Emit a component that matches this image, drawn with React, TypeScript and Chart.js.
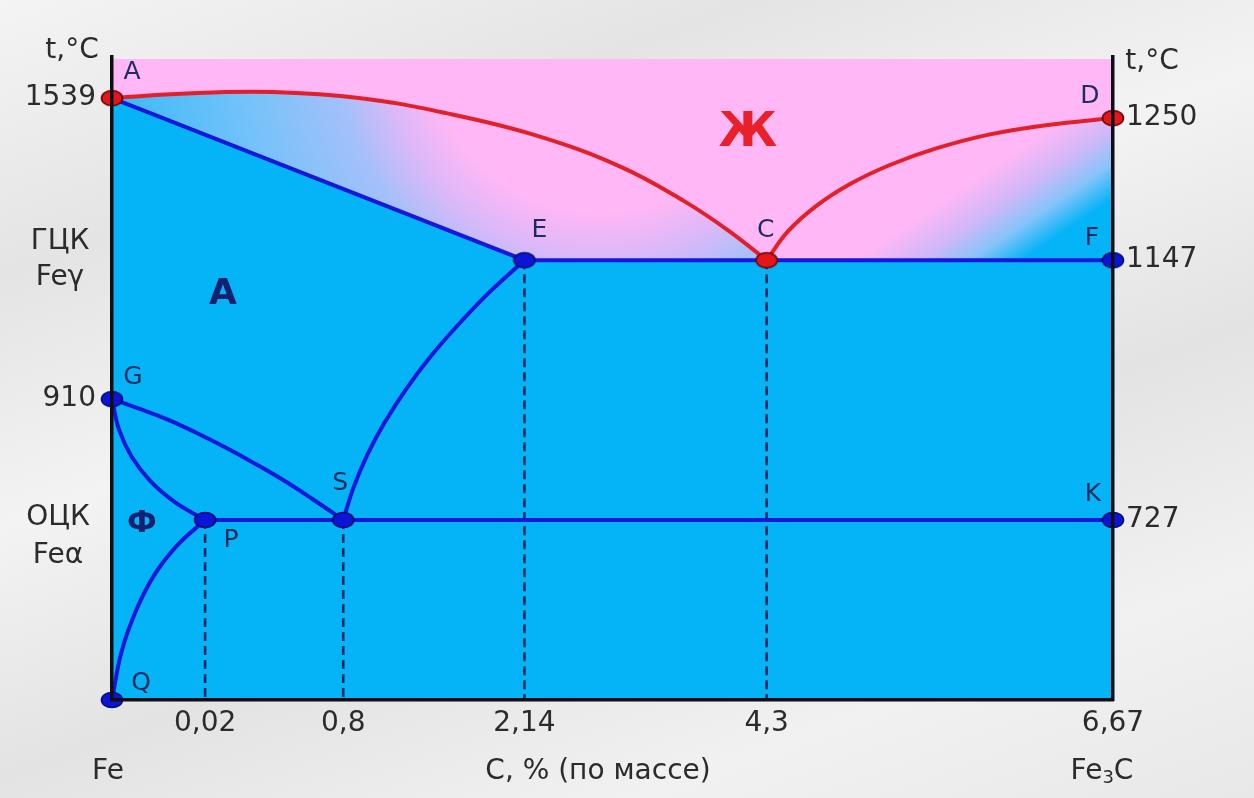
import React, { useEffect, useRef } from 'react';
import { Chart, LinearScale, registerables } from 'chart.js';

Chart.register(...registerables);

// ---------------- data (carbon %, temperature °C) ----------------
const CARBON_TICKS = [0.02, 0.8, 2.14, 4.3, 6.67];
const CARBON_TICK_LABELS = ['0,02', '0,8', '2,14', '4,3', '6,67'];
const TEMP_TICKS_LEFT = [910, 1539];
const TEMP_TICKS_RIGHT = [727, 1147, 1250];

// liquidus A–C
const AC_C = [0, 0.016, 0.4, 0.93, 1.56, 2.22, 2.99, 3.56, 3.95, 4.3];
const AC_T = [1539, 1546, 1548, 1539, 1322, 1238, 1215, 1190, 1169, 1147];
// liquidus C–D
const CD_C = [4.3, 4.447, 4.636, 4.868, 5.143, 5.46, 5.82, 6.223, 6.67];
const CD_T = [1147, 1168, 1186, 1202, 1216, 1228, 1238, 1245, 1250];
// solidus A–E–F
const AEF_C = [0, 2.14, 6.67];
const AEF_T = [1539, 1147, 1147];
// E–S
const ES_C = [0.8, 0.876, 0.977, 1.105, 1.259, 1.44, 1.647, 1.88, 2.14];
const ES_T = [727, 776, 825, 874, 925, 981, 1036, 1092, 1147];
// G–S
const GS_C = [0, 0.006, 0.012, 0.0181, 0.133, 0.297, 0.463, 0.63, 0.8];
const GS_T = [910, 895, 879, 859, 837, 813, 787, 758, 727];
// G–P
const GP_C = [0, 0.0015, 0.0042, 0.0082, 0.0135, 0.02];
const GP_T = [910, 864, 823, 786, 754, 727];
// Q–P
const QP_C = [0, 0.002, 0.0051, 0.009, 0.014, 0.02];
const QP_T = [0, 191, 358, 502, 624, 727];
// P–S–K
const PSK_C = [0.02, 0.8, 6.67];
const PSK_T = [727, 727, 727];
// vertical drop lines
const DROP_C = [0.02, 0.8, 2.14, 4.3];
const DROP_T = [727, 727, 1147, 1147];

// characteristic points
const POINT_NAMES = ['A', 'D', 'C', 'E', 'F', 'G', 'S', 'P', 'K', 'Q'];
const POINT_C = [0, 6.67, 4.3, 2.14, 6.67, 0, 0.8, 0.02, 6.67, 0];
const POINT_T = [1539, 1250, 1147, 1147, 1147, 910, 727, 727, 727, 0];
const LIQUID_POINTS = ['A', 'D', 'C'];

// ---------------- scale configuration (schematic, piecewise axes) ----------------
const X_BREAKS = [0, 0.02, 0.8, 2.14, 4.3, 6.67];
const X_FRACS = [0, 0.093, 0.231, 0.412, 0.654, 1];
const T_BREAKS = [0, 727, 910, 1147, 1250, 1539, 1600];
const T_FRACS = [0, 0.28, 0.468, 0.684, 0.905, 0.936, 1];

function interp(v: number, xs: number[], ys: number[]): number {
  if (v == null || isNaN(v)) return NaN;
  let i = 0;
  while (i < xs.length - 2 && v > xs[i + 1]) i++;
  const t = (v - xs[i]) / (xs[i + 1] - xs[i]);
  return ys[i] + t * (ys[i + 1] - ys[i]);
}

function makeScale(id: string, breaks: number[], fracs: number[]) {
  class PiecewiseScale extends (LinearScale as any) {
    getPixelForValue(value: number) {
      return (this as any).getPixelForDecimal(interp(value, breaks, fracs));
    }
    getValueForPixel(pixel: number) {
      return interp((this as any).getDecimalForPixel(pixel), fracs, breaks);
    }
  }
  (PiecewiseScale as any).id = id;
  (PiecewiseScale as any).defaults = { ...((LinearScale as any).defaults || {}) };
  return PiecewiseScale;
}
Chart.register(makeScale('carbon', X_BREAKS, X_FRACS) as any, makeScale('temperature', T_BREAKS, T_FRACS) as any);

// ---------------- styles ----------------
const PINK = '#ffb7f5';
const BLUE_FILL = '#04b4f6';
const BLUE_LINE = '#1616dc';
const RED_LINE = '#e2202a';
const DASH = '#1b2a60';
const AXIS = '#0e0e14';
const TEXT = '#2b2b2b';
const NAVY = '#1e2b5e';
const FONT = "'DejaVu Sans', 'Liberation Sans', sans-serif";

const LEFT_STOPS: [number, string][] = [
  [0, PINK], [0.36, PINK], [0.45, '#dcb8f8'], [0.55, '#a4c0fa'], [0.75, '#74c2fa'], [1, '#40baf8'],
];
const RIGHT_STOPS: [number, string][] = [
  [0, PINK], [0.2, PINK], [0.5, '#d0b8f8'], [0.75, '#86c4fa'], [1, BLUE_FILL],
];

const LABEL_OFFSETS: Record<string, [number, number]> = {
  A: [20, -26], D: [-23, -22], C: [-1, -30], E: [15, -30], F: [-21, -22],
  G: [21, -22], S: [-3, -36], P: [26, 21], K: [-20, -25], Q: [29, -17],
};

const pts = (cs: number[], ts: number[]) => cs.map((c, i) => ({ x: c, y: ts[i] }));

function makeDot(fill: string, stroke: string) {
  const c = document.createElement('canvas');
  c.width = 24;
  c.height = 18;
  const g = c.getContext('2d')!;
  g.beginPath();
  g.ellipse(12, 9, 10.5, 7.5, 0, 0, Math.PI * 2);
  g.fillStyle = fill;
  g.fill();
  g.lineWidth = 1.6;
  g.strokeStyle = stroke;
  g.stroke();
  return c;
}

// gradients defined in chart-area fractions
const linearArea = (f: [number, number, number, number], stops: [number, string][]) => (ctx: any) => {
  const chart = ctx.chart;
  const a = chart.chartArea;
  if (!a) return PINK;
  const w = a.right - a.left;
  const h = a.bottom - a.top;
  const g = chart.ctx.createLinearGradient(a.left + f[0] * w, a.top + f[1] * h, a.left + f[2] * w, a.top + f[3] * h);
  stops.forEach(([o, c]) => g.addColorStop(o, c));
  return g;
};
const radialArea = (f: [number, number, number], stops: [number, string][]) => (ctx: any) => {
  const chart = ctx.chart;
  const a = chart.chartArea;
  if (!a) return PINK;
  const w = a.right - a.left;
  const h = a.bottom - a.top;
  const cx = a.left + f[0] * w;
  const cy = a.top + f[1] * h;
  const g = chart.ctx.createRadialGradient(cx, cy, 0, cx, cy, f[2] * w);
  stops.forEach(([o, c]) => g.addColorStop(o, c));
  return g;
};
const leftFill = radialArea([0.4875, -0.026, 0.48], LEFT_STOPS);
const rightFill = linearArea([0.774, 0.239, 0.8396, 0.3896], RIGHT_STOPS);

const bgPlugin = {
  id: 'liquidBg',
  beforeDatasetsDraw(chart: any) {
    const { ctx, chartArea: a } = chart;
    ctx.save();
    ctx.fillStyle = PINK;
    ctx.fillRect(a.left, a.top + 2, a.right - a.left, a.bottom - a.top - 2);
    ctx.restore();
  },
};

const textPlugin = {
  id: 'diagramText',
  afterDraw(chart: any) {
    const { ctx, chartArea: a, scales } = chart;
    const put = (s: string, x: number, y: number, font: string, color: string, align: CanvasTextAlign = 'center') => {
      ctx.font = font;
      ctx.fillStyle = color;
      ctx.textAlign = align;
      ctx.textBaseline = 'middle';
      ctx.fillText(s, x, y);
    };
    ctx.save();
    // point letters
    POINT_NAMES.forEach((n, i) => {
      const px = scales.x.getPixelForValue(POINT_C[i]);
      const py = scales.y.getPixelForValue(POINT_T[i]);
      const [dx, dy] = LABEL_OFFSETS[n];
      put(n, px + dx, py + dy, `25px ${FONT}`, NAVY);
    });
    // phase labels
    put('Ж', a.left + 636, a.top + 77, `bold 48px ${FONT}`, '#e8202a');
    put('А', a.left + 111, a.top + 238, `bold 36px ${FONT}`, '#142070');
    put('Ф', a.left + 30, a.top + 467, `bold 30px ${FONT}`, '#142070');
    // axis captions
    const f = `28px ${FONT}`;
    put('t,°C', a.left - 40, a.top - 6, f, TEXT);
    put('t,°C', a.right + 39, a.top + 5, f, TEXT);
    put('ГЦК', 60, a.top + 185, f, TEXT);
    put('Feγ', 60, a.top + 221, f, TEXT);
    put('ОЦК', 58, a.top + 461, f, TEXT);
    put('Feα', 58, a.top + 499, f, TEXT);
    put('Fe', a.left - 4, a.bottom + 72, f, TEXT);
    put('C, % (по массе)', 598, a.bottom + 72, f, TEXT);
    // Fe3C with subscript
    ctx.font = f;
    const wFe = ctx.measureText('Fe').width;
    const wC = ctx.measureText('C').width;
    ctx.font = `18px ${FONT}`;
    const w3 = ctx.measureText('3').width;
    const total = wFe + w3 + wC;
    let x0 = a.right - 11 - total / 2;
    put('Fe', x0, a.bottom + 72, f, TEXT, 'left');
    x0 += wFe;
    put('3', x0, a.bottom + 78, `18px ${FONT}`, TEXT, 'left');
    x0 += w3;
    put('C', x0, a.bottom + 72, f, TEXT, 'left');
    ctx.restore();
  },
};

export default function App() {
  const ref = useRef<HTMLCanvasElement>(null);

  useEffect(() => {
    const canvas = ref.current;
    if (!canvas) return;
    const redDot = makeDot('#e4161c', '#6a0808');
    const blueDot = makeDot('#0c14d8', '#05106a');

    const line = (data: any[], color: string, width: number, extra: any = {}) => ({
      data,
      borderColor: color,
      borderWidth: width,
      pointRadius: 0,
      fill: false,
      tension: 0,
      clip: false,
      order: 5,
      ...extra,
    });

    const liquidIdx = POINT_NAMES.map((n, i) => (LIQUID_POINTS.includes(n) ? i : -1)).filter((i) => i >= 0);
    const solidIdx = POINT_NAMES.map((n, i) => (LIQUID_POINTS.includes(n) ? -1 : i)).filter((i) => i >= 0);

    const datasets: any[] = [
      // fills
      line(pts(AC_C, AC_T), 'transparent', 0, { fill: 'start', backgroundColor: leftFill, tension: 0.4, order: 20 }),
      line(pts(CD_C, CD_T), 'transparent', 0, { fill: 'start', backgroundColor: rightFill, tension: 0.4, order: 19 }),
      line(pts(AEF_C, AEF_T), 'transparent', 0, { fill: 'start', backgroundColor: BLUE_FILL, order: 18 }),
      // dashed drop lines
      ...DROP_C.map((c, i) =>
        line([{ x: c, y: DROP_T[i] }, { x: c, y: 0 }], DASH, 2.6, { borderDash: [9, 5], order: 8 })
      ),
      // phase boundaries
      line(pts(AEF_C, AEF_T), BLUE_LINE, 4),
      line(pts(PSK_C, PSK_T), BLUE_LINE, 4),
      line(pts(ES_C, ES_T), BLUE_LINE, 4, { tension: 0.4 }),
      line(pts(GS_C, GS_T), BLUE_LINE, 4, { tension: 0.4 }),
      line(pts(GP_C, GP_T), BLUE_LINE, 4, { tension: 0.4 }),
      line(pts(QP_C, QP_T), BLUE_LINE, 4, { tension: 0.4 }),
      line(pts(AC_C, AC_T), RED_LINE, 4, { tension: 0.4, order: 4 }),
      line(pts(CD_C, CD_T), RED_LINE, 4, { tension: 0.4, order: 4 }),
      // points
      {
        data: solidIdx.map((i) => ({ x: POINT_C[i], y: POINT_T[i] })),
        showLine: false,
        pointStyle: blueDot,
        pointRadius: 8,
        clip: false,
        order: 1,
      },
      {
        data: liquidIdx.map((i) => ({ x: POINT_C[i], y: POINT_T[i] })),
        showLine: false,
        pointStyle: redDot,
        pointRadius: 8,
        clip: false,
        order: 0,
      },
    ];

    const tickFont = { family: FONT, size: 28 };
    const chart = new Chart(canvas, {
      type: 'line',
      data: { datasets },
      plugins: [bgPlugin, textPlugin],
      options: {
        responsive: false,
        animation: false,
        events: [],
        devicePixelRatio: 1,
        layout: { padding: { top: 57, left: 0, right: 0, bottom: 0 } },
        plugins: { legend: { display: false }, tooltip: { enabled: false } },
        scales: {
          x: {
            type: 'carbon' as any,
            min: 0,
            max: 6.67,
            position: 'bottom',
            afterBuildTicks: (s: any) => {
              s.ticks = CARBON_TICKS.map((value) => ({ value }));
            },
            afterFit: (s: any) => {
              s.height = 98;
            },
            grid: { display: false, drawTicks: false },
            border: { display: true, color: AXIS, width: 3.5, z: 1 } as any,
            ticks: {
              autoSkip: false,
              maxRotation: 0,
              padding: 7,
              color: TEXT,
              font: tickFont,
              callback: (_v: any, i: number) => CARBON_TICK_LABELS[i],
            },
          },
          y: {
            type: 'temperature' as any,
            min: 0,
            max: 1600,
            position: 'left',
            afterBuildTicks: (s: any) => {
              s.ticks = TEMP_TICKS_LEFT.map((value) => ({ value }));
            },
            afterFit: (s: any) => {
              s.width = 112;
            },
            grid: { display: false, drawTicks: false },
            border: { display: true, color: AXIS, width: 3.5, z: 1 } as any,
            ticks: {
              autoSkip: false,
              padding: 16,
              color: TEXT,
              font: tickFont,
              callback: (v: any) => String(v),
            },
          },
          y2: {
            type: 'temperature' as any,
            min: 0,
            max: 1600,
            position: 'right',
            afterBuildTicks: (s: any) => {
              s.ticks = TEMP_TICKS_RIGHT.map((value) => ({ value }));
            },
            afterFit: (s: any) => {
              s.width = 141;
            },
            grid: { display: false, drawTicks: false },
            border: { display: true, color: AXIS, width: 3.5, z: 1 } as any,
            ticks: {
              autoSkip: false,
              padding: 13,
              color: TEXT,
              font: tickFont,
              callback: (v: any) => String(v),
            },
          },
        },
      } as any,
    });
    return () => chart.destroy();
  }, []);

  return (
    <div
      style={{
        position: 'fixed',
        left: 0,
        top: 0,
        width: 1254,
        height: 798,
        background:
          'linear-gradient(160deg, #f4f4f4 0%, #e4e4e4 22%, #f3f3f3 42%, #e3e3e3 62%, #f1f1f1 82%, #e8e8e8 100%)',
      }}
    >
      <canvas ref={ref} width={1254} height={798} style={{ display: 'block' }} />
    </div>
  );
}
